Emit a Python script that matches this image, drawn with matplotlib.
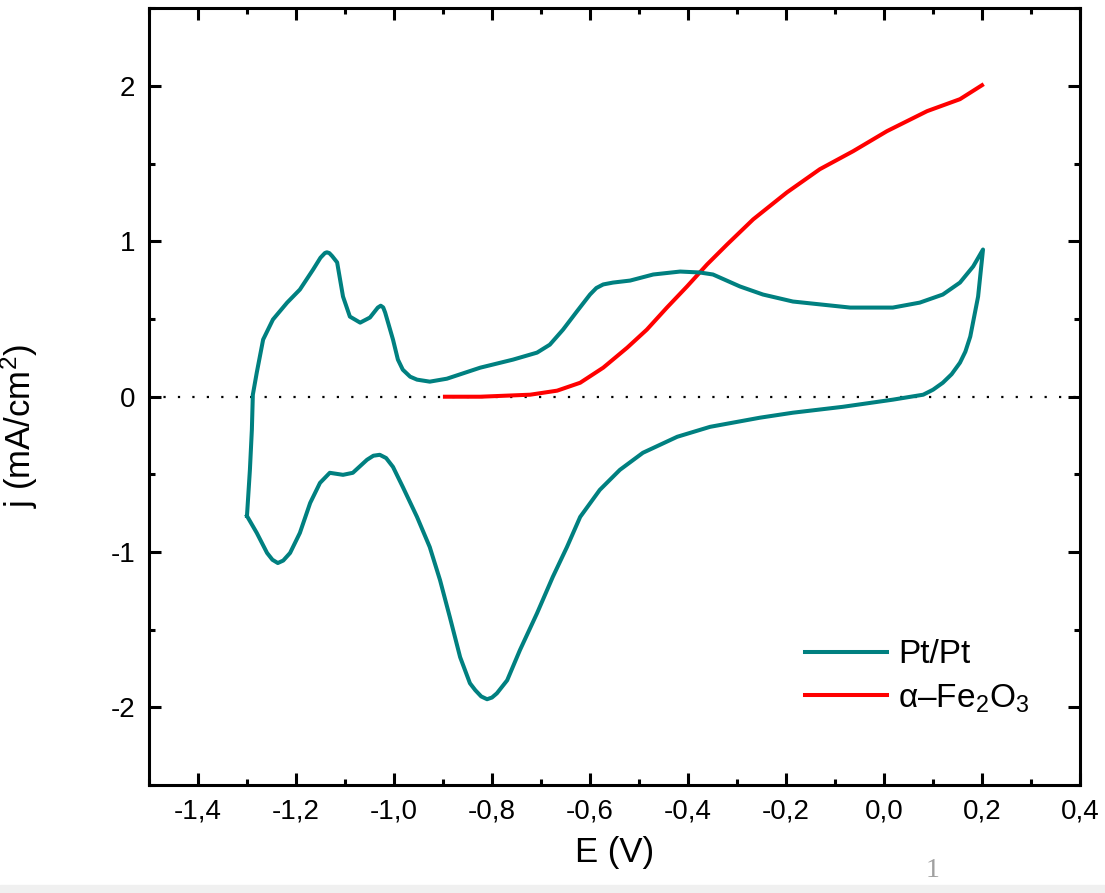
import numpy as np
import matplotlib
matplotlib.use("Agg")
from matplotlib import pyplot as plt
from matplotlib.ticker import MultipleLocator, FuncFormatter
from matplotlib.patches import Rectangle

plt.rcParams['font.family'] = ['Liberation Sans', 'DejaVu Sans']
plt.rcParams['mathtext.fontset'] = 'custom'
plt.rcParams['mathtext.rm'] = 'Liberation Sans'
plt.rcParams['mathtext.it'] = 'Liberation Sans'
plt.rcParams['axes.unicode_minus'] = False

# Pt/Pt cyclic voltammogram: anodic sweep from -1.3 V to 0.2 V, then back
pt_E = [-1.300, -1.294, -1.290, -1.288, -1.280, -1.267, -1.247, -1.218, -1.192, -1.165,
        -1.150, -1.141, -1.137, -1.132, -1.126, -1.116, -1.104, -1.090, -1.069, -1.049,
        -1.033, -1.027, -1.022, -1.018, -1.002, -0.992, -0.982, -0.967, -0.953, -0.927,
        -0.892, -0.824, -0.757, -0.708, -0.682, -0.655, -0.627, -0.600, -0.587, -0.573,
        -0.553, -0.518, -0.471, -0.416, -0.376, -0.349, -0.294, -0.247, -0.186, -0.069,
        0.018, 0.073, 0.120, 0.155, 0.182, 0.202,
        0.192, 0.176, 0.166, 0.155, 0.138, 0.120, 0.100, 0.080, 0.018, -0.084,
        -0.186, -0.253, -0.355, -0.422, -0.492, -0.539, -0.580, -0.620, -0.647, -0.676,
        -0.708, -0.743, -0.769, -0.790, -0.800, -0.810, -0.822, -0.834, -0.845, -0.865,
        -0.886, -0.906, -0.927, -0.953, -0.982, -1.002, -1.016, -1.029, -1.042, -1.055,
        -1.084, -1.104, -1.131, -1.151, -1.171, -1.192, -1.212, -1.226, -1.237, -1.248,
        -1.259, -1.280, -1.300]
pt_j = [-0.768, -0.471, -0.213, 0.013, 0.155, 0.368, 0.497, 0.606, 0.690, 0.819,
        0.895, 0.925, 0.930, 0.925, 0.905, 0.865, 0.645, 0.516, 0.477, 0.510,
        0.574, 0.586, 0.575, 0.542, 0.368, 0.239, 0.174, 0.129, 0.110, 0.097,
        0.116, 0.187, 0.239, 0.284, 0.335, 0.432, 0.548, 0.658, 0.700, 0.723,
        0.735, 0.748, 0.787, 0.806, 0.800, 0.787, 0.710, 0.658, 0.613, 0.574,
        0.574, 0.606, 0.658, 0.735, 0.839, 0.948,
        0.645, 0.387, 0.290, 0.219, 0.145, 0.090, 0.045, 0.013, -0.019, -0.065,
        -0.103, -0.135, -0.194, -0.258, -0.361, -0.471, -0.600, -0.774, -0.968, -1.161,
        -1.394, -1.632, -1.826, -1.910, -1.937, -1.948, -1.930, -1.890, -1.845, -1.677,
        -1.419, -1.181, -0.968, -0.774, -0.581, -0.452, -0.395, -0.374, -0.380, -0.406,
        -0.490, -0.503, -0.490, -0.555, -0.684, -0.877, -1.006, -1.055, -1.071, -1.050,
        -1.006, -0.877, -0.768]

# alpha-Fe2O3 linear sweep
fe_E = [-0.896, -0.824, -0.722, -0.667, -0.620, -0.573, -0.524, -0.484, -0.443, -0.402,
        -0.361, -0.320, -0.267, -0.198, -0.131, -0.063, 0.006, 0.088, 0.155, 0.200]
fe_j = [0.000, 0.000, 0.013, 0.039, 0.090, 0.187, 0.316, 0.432, 0.574, 0.710,
        0.852, 0.981, 1.142, 1.316, 1.465, 1.581, 1.710, 1.839, 1.916, 2.006]

labels = ['Pt/Pt', '\u03b1\u2013Fe$_2$O$_3$']
colors = ['#008080', '#ff0000']

fig = plt.figure(figsize=(11.05, 8.93), dpi=100)
ax = fig.add_axes([0.1348, 0.121, 0.8426, 0.8695])

ax.axhline(0, color='black', lw=1.6, ls=(0, (1, 5.5)), zorder=1)
ax.plot(pt_E, pt_j, color=colors[0], lw=2.9, label=labels[0], zorder=3,
        solid_joinstyle='round')
ax.plot(fe_E, fe_j, color=colors[1], lw=2.9, label=labels[1], zorder=2,
        solid_joinstyle='round')

ax.set_xlim(-1.5, 0.4)
ax.set_ylim(-2.5, 2.5)
ax.xaxis.set_major_locator(MultipleLocator(0.2))
ax.xaxis.set_minor_locator(MultipleLocator(0.1))
ax.yaxis.set_major_locator(MultipleLocator(1))
ax.yaxis.set_minor_locator(MultipleLocator(0.5))
ax.xaxis.set_major_formatter(FuncFormatter(lambda v, p: ('%.1f' % v).replace('-0.0', '0.0').replace('.', ',')))
ax.yaxis.set_major_formatter(FuncFormatter(lambda v, p: '%d' % round(v)))

ax.tick_params(which='both', direction='in', top=True, right=True, width=2.2, labelsize=20)
ax.tick_params(which='major', length=8.6, pad=10)
ax.tick_params(which='minor', length=4.3)
for s in ax.spines.values():
    s.set_linewidth(2.2)

ax.set_xlabel('E (V)', fontsize=25, labelpad=8)
ax.set_ylabel('j (mA/cm$^2$)', fontsize=25)
ax.yaxis.set_label_coords(-0.117, 0.462)

ax.legend(loc='center left', bbox_to_anchor=(0.7285, 0.2419), bbox_transform=fig.transFigure,
          frameon=False, fontsize=24, handlelength=2.45, handletextpad=0.35,
          labelspacing=0.35, borderpad=0, borderaxespad=0)

fig.text(0.8443, 0.018, '1', fontsize=20, color='#a0a0a0', family='Liberation Serif',
         ha='center', va='baseline')
fig.patches.append(Rectangle((0, 0), 1, 0.0095, transform=fig.transFigure,
                             color='#f0f0f0', zorder=0))

plt.savefig('out.png', dpi=100)
